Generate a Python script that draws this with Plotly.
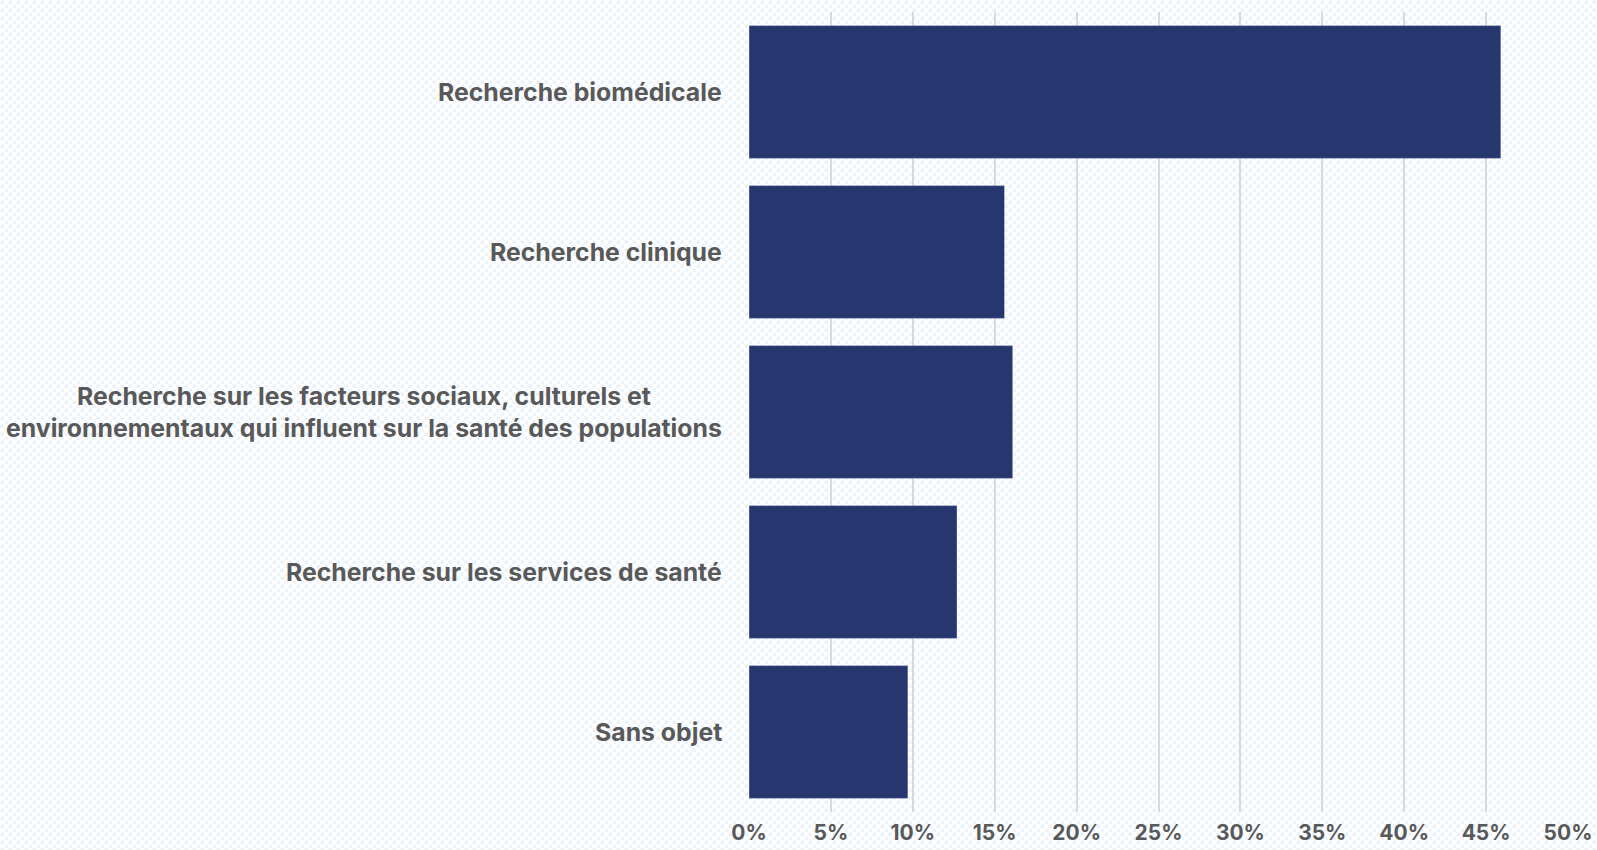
import base64
import plotly.graph_objects as go

categories = [
    "Recherche biomédicale",
    "Recherche clinique",
    "Recherche sur les facteurs sociaux, culturels et<br>environnementaux qui influent sur la santé des populations",
    "Recherche sur les services de santé",
    "Sans objet",
]
values = [0.459, 0.156, 0.161, 0.127, 0.097]
tick_vals = [i * 0.05 for i in range(11)]
tick_text = [f"{i * 5}%" for i in range(11)]

W, H = 1597, 850
L, R, T, B = 749, 29, 12, 38
pw, ph = W - L - R, H - T - B

FONT = "Inter"
TXT = "#595959"
BAR = "#27366E"

svg = f'''<svg xmlns="http://www.w3.org/2000/svg" width="{W}" height="{H}" viewBox="0 0 {W} {H}">
<defs><pattern id="p" width="8" height="8" patternUnits="userSpaceOnUse">
<rect width="8" height="8" fill="#ffffff"/>
<rect x="0.5" y="0.5" width="3.5" height="3.5" fill="#E9F2FB"/>
<rect x="4.5" y="4.5" width="3.5" height="3.5" fill="#EDF4FC"/>
</pattern></defs>
<rect width="{W}" height="{H}" fill="url(#p)"/></svg>'''
src = "data:image/svg+xml;base64," + base64.b64encode(svg.encode()).decode()

fig = go.Figure(go.Bar(
    x=values, y=categories, orientation="h",
    marker=dict(color=BAR, line=dict(color="rgba(255,255,255,0.35)", width=1)),
    hoverinfo="skip",
))

fig.update_layout(
    width=W, height=H,
    margin=dict(l=L, r=R, t=T, b=B, autoexpand=False),
    paper_bgcolor="white",
    plot_bgcolor="rgba(0,0,0,0)",
    bargap=0.17,
    showlegend=False,
    images=[dict(source=src, xref="paper", yref="paper",
                 x=-L / pw, y=1 + T / ph, sizex=W / pw, sizey=H / ph,
                 sizing="stretch", xanchor="left", yanchor="top", layer="below")],
    font=dict(family=FONT, color=TXT, size=22),
)
fig.update_xaxes(
    range=[0, 0.5], tickvals=tick_vals, ticktext=tick_text,
    showgrid=True, gridcolor="#D9D9D9", gridwidth=2,
    zeroline=False, showline=False, ticks="", automargin=False,
    tickfont=dict(family=FONT, size=21, color=TXT, weight="bold"),
    ticklabelstandoff=6,
)
fig.update_yaxes(
    autorange="reversed", showticklabels=False, showgrid=False,
    zeroline=False, showline=False, ticks="", automargin=False,
)
for c in categories:
    fig.add_annotation(
        x=0, xref="paper", y=c, yref="y", text=c, showarrow=False,
        xanchor="right", yanchor="middle", align="center", xshift=-25,
        font=dict(family=FONT, size=24.8, color=TXT, weight="bold"),
    )

fig.write_html(
    "out.html",
    config={"displayModeBar": False, "responsive": False},
    post_script=(
        "document.documentElement.style.margin='0';"
        "document.documentElement.style.overflow='hidden';"
        "document.body.style.margin='0';"
        "document.body.style.overflow='hidden';"
    ),
)
